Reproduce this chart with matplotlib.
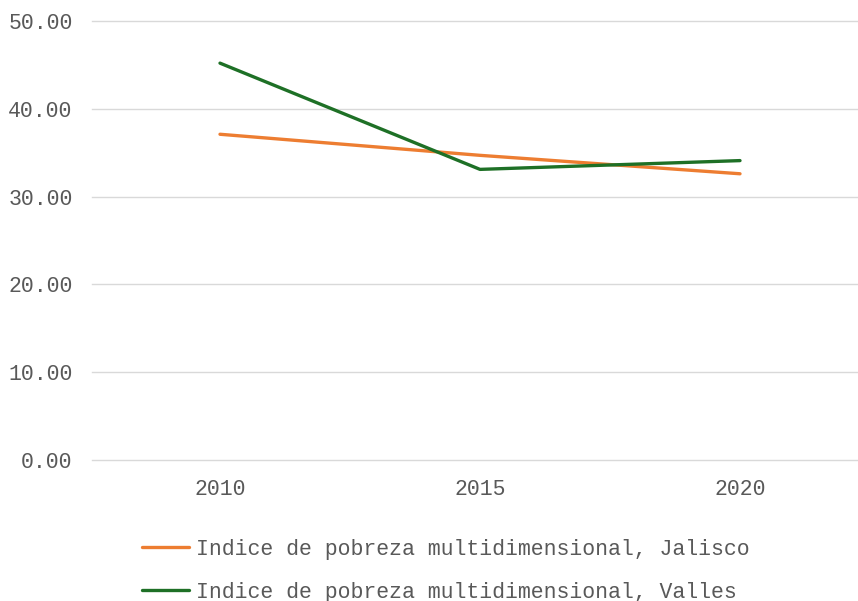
import matplotlib
matplotlib.use("Agg")
import matplotlib.pyplot as plt

years = ["2010", "2015", "2020"]
jalisco = [37.1, 34.7, 32.6]
valles = [45.2, 33.1, 34.1]
yticks = [0, 10, 20, 30, 40, 50]
labels = ["Indice de pobreza multidimensional, Jalisco",
          "Indice de pobreza multidimensional, Valles"]

plt.rcParams['font.family'] = ['Liberation Mono', 'DejaVu Sans Mono']
W, H = 858, 601
fig = plt.figure(figsize=(W/100, H/100), dpi=100)
ax = fig.add_axes([92/W, (H-460)/H, (W-92)/W, (460-21)/H])

x = list(range(len(years)))
ax.plot(x, jalisco, color="#ED7D31", lw=2.4, label=labels[0], solid_capstyle='round', clip_on=False)
ax.plot(x, valles, color="#1E7026", lw=2.4, label=labels[1], solid_capstyle='round', clip_on=False)

ax.set_xlim((92-220)/260, (W-220)/260)
ax.set_ylim(0, 50)
ax.set_yticks(yticks)
ax.set_yticklabels([f"{v:.2f}" for v in yticks])
ax.set_xticks(x)
ax.set_xticklabels(years)
ax.grid(axis='y', color="#d9d9d9", lw=1)
for gl in ax.get_ygridlines():
    gl.set_clip_on(False)
ax.set_axisbelow(True)
for s in ax.spines.values():
    s.set_visible(False)
ax.tick_params(length=0, labelsize=15.5, labelcolor="#595959")
ax.tick_params(axis='y', pad=14)
ax.tick_params(axis='x', pad=14)

fig.legend(loc='upper left', bbox_to_anchor=(142/W, (H-539)/H), frameon=False,
           fontsize=15.5, handlelength=2.2, handletextpad=0.3, labelspacing=1.0,
           borderpad=0, borderaxespad=0, labelcolor="#595959")

fig.savefig("out.png", dpi=100)
